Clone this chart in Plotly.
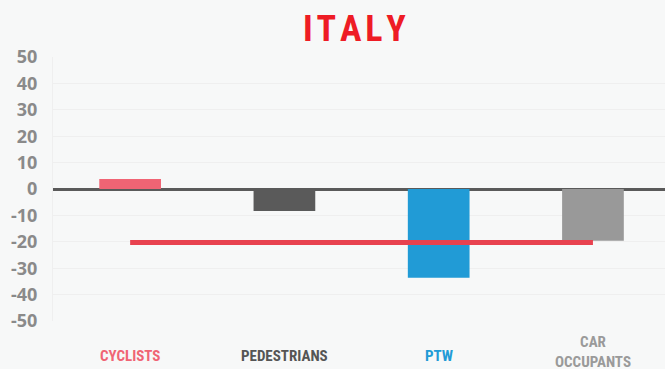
import plotly.graph_objects as go

# Change in road fatalities by user group, Italy (%)
categories = ["CYCLISTS", "PEDESTRIANS", "PTW", "CAR<br>OCCUPANTS"]
values = [3.8, -8.3, -33.6, -19.6]
bar_colors = ["#F06474", "#5A5A5A", "#219BD6", "#999999"]
label_colors = ["#F06474", "#555555", "#219BD6", "#9A9A9A"]
average_value = -20.3
y_ticks = [50, 40, 30, 20, 10, 0, -10, -20, -30, -40, -50]

COND = "Roboto Condensed, Liberation Sans Narrow, Roboto, sans-serif"
TICK_FONT = "Open Sans, Roboto, sans-serif"
BG = "#F7F8F8"
HAIR = "\u200a"

fig = go.Figure()

fig.add_trace(go.Bar(
    x=list(range(len(categories))),
    y=values,
    marker=dict(color=bar_colors, line=dict(width=0)),
    width=0.4,
    hoverinfo="skip",
))

# overall average drawn across the groups
fig.add_trace(go.Scatter(
    x=[0, len(categories) - 1],
    y=[average_value, average_value],
    mode="lines",
    line=dict(color="#E8424F", width=5),
    hoverinfo="skip",
))

for i, (cat, col) in enumerate(zip(categories, label_colors)):
    fig.add_annotation(
        x=i, xref="x", y=0, yref="paper",
        yshift=-31 if "<br>" in cat else -35,
        text=f"<b>{cat}</b>", showarrow=False,
        font=dict(family=COND, size=15, color=col),
        yanchor="middle", xanchor="center",
    )

fig.update_layout(
    width=665, height=369,
    margin=dict(l=53, r=0, t=57, b=48),
    paper_bgcolor=BG, plot_bgcolor=BG,
    showlegend=False,
    bargap=0.6,
    title=dict(
        text="<b>" + HAIR.join("ITALY") + "</b>",
        x=0.533, xanchor="center", y=0.922, yanchor="middle",
        font=dict(family=COND, size=36, color="#EE1C25"),
    ),
    xaxis=dict(
        range=[-0.5, 3.467], showticklabels=False, showgrid=False,
        zeroline=False, fixedrange=True,
    ),
    yaxis=dict(
        range=[-50, 50], tickvals=y_ticks,
        ticktext=[f"<b>{v}</b>" for v in y_ticks],
        tickfont=dict(family=TICK_FONT, size=18, color="#8A8A8A"),
        showgrid=True, gridcolor="#EFEFEF", gridwidth=1,
        zeroline=True, zerolinecolor="#5A5A5A", zerolinewidth=3,
        showline=True, linecolor="#EFEFEF", linewidth=1,
        ticks="", ticklabelstandoff=11,
    ),
)

fig.write_html("out.html")
